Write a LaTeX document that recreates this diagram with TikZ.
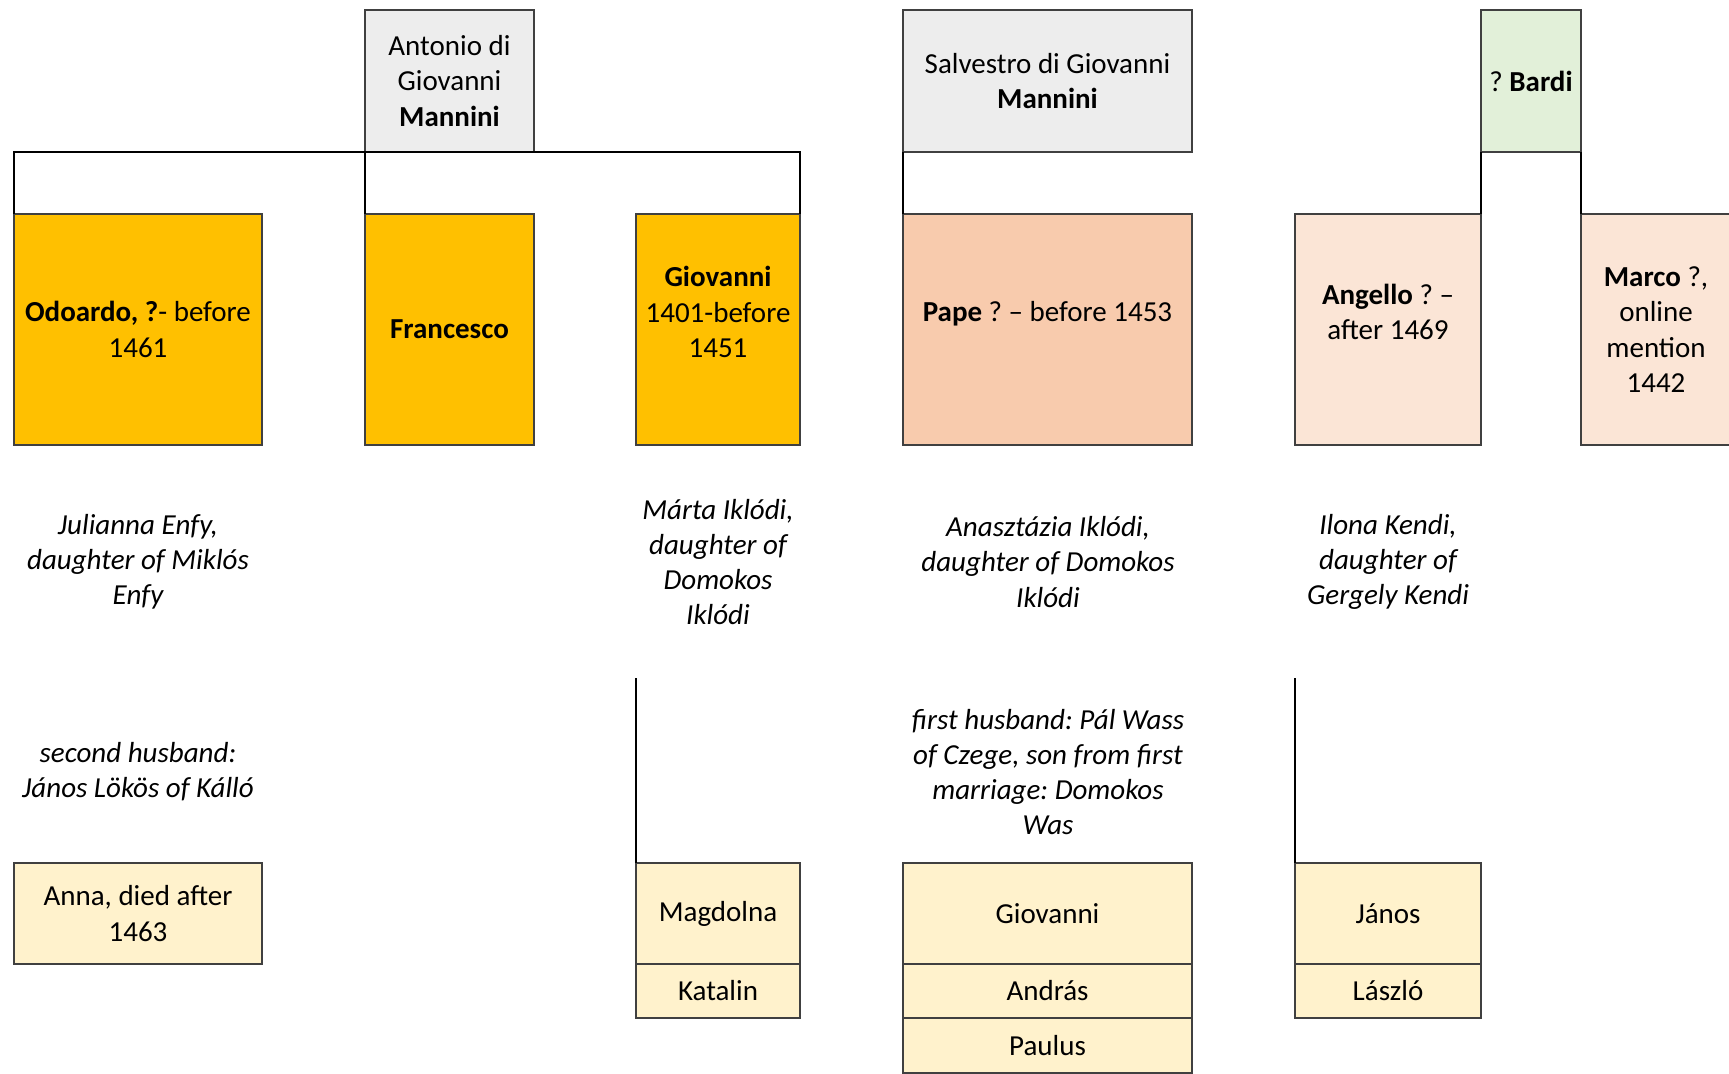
\documentclass[tikz,border=0pt]{standalone}
\usepackage{fontspec}
\setmainfont{Carlito}
\frenchspacing
\usepackage{tikz}
\usetikzlibrary{positioning}
\definecolor{borde}{rgb}{0.25,0.25,0.25}
\definecolor{gris}{HTML}{EDEDED}
\definecolor{verde}{HTML}{E2F0D9}
\definecolor{oro}{HTML}{FFC000}
\definecolor{durazno}{HTML}{F8CBAD}
\definecolor{salmon}{HTML}{FBE5D6}
\definecolor{crema}{HTML}{FFF2CC}
\tikzset{
  caja/.style={
    draw=borde,
    line width=.75pt,
    align=center,
    anchor=north west,
    inner sep=2pt,
    outer sep=0pt,
    font=\fontsize{14.5}{17.6}\selectfont
  },
  padre/.style={
    caja,
    fill=gris,
    minimum height=71pt
  },
  hijo/.style={
    caja,
    fill=oro,
    minimum height=115.5pt
  },
  nieto/.style={
    caja,
    fill=crema,
    minimum height=50.5pt
  },
  otro/.style={
    caja,
    fill=crema,
    minimum height=27pt
  },
  nota/.style={
    align=center,
    font=\fontsize{14.5}{17.6}\selectfont\itshape
  },
  linea/.style={
    draw=black,
    line width=.6pt
  }
}

\begin{document}
\begin{tikzpicture}[x=.5pt,y=-.5pt]
\useasboundingbox (0,0) rectangle (1729,1074);
\node[padre,minimum width=84.5pt] (antonio) at (365,10) {Antonio di\\Giovanni\\\textbf{Mannini}};
\node[padre,minimum width=144.5pt] (salvestro) at (903,10) {Salvestro di Giovanni\\\textbf{Mannini}};
\node[padre,fill=verde,minimum width=50pt] (bardi) at (1481,10) {? \textbf{Bardi}};
\node[hijo,minimum width=124pt] (odoardo) at (14,214) {\textbf{Odoardo, ?}- before\\1461};
\node[hijo,minimum width=84.5pt] (francesco) at (365,214) {\textbf{Francesco}};
\node[hijo,minimum width=82pt] (giovanni) at (636,214) {\textbf{Giovanni}\\1401-before\\1451\\\mbox{}};
\node[hijo,fill=durazno,minimum width=144.5pt] (pape) at (903,214) {\textbf{Pape} ? – before 1453\\\mbox{}};
\node[hijo,fill=salmon,minimum width=93pt] (angello) at (1295,214) {\textbf{Angello} ? –\\after 1469\\\mbox{}};
\node[hijo,fill=salmon,minimum width=75pt] (marco) at (1581,214) {\textbf{Marco} ?,\\online\\mention\\1442};
\node[nota] (julianna) at (138,562) {Julianna Enfy,\\daughter of Miklós\\Enfy};
\node[nota] (marta) at (718,562) {Márta Iklódi,\\daughter of\\Domokos\\Iklódi};
\node[nota] (anasztazia) at (1048,562) {Anasztázia Iklódi,\\daughter of Domokos\\Iklódi};
\node[nota] (ilona) at (1388,562) {Ilona Kendi,\\daughter of\\Gergely Kendi};
\node[nota] (lokos) at (138,772) {second husband:\\János Lökös of Kálló};
\node[nota] (wass) at (1048,772) {first husband: Pál Wass\\of Czege, son from first\\marriage: Domokos\\Was};
\node[nieto,minimum width=124pt] (anna) at (14,863) {Anna, died after\\1463};
\node[nieto,minimum width=82pt] (magdolna) at (636,863) {Magdolna};
\node[otro,minimum width=82pt,below=0pt of magdolna] (katalin) {Katalin};
\node[nieto,minimum width=144.5pt] (giovanni2) at (903,863) {Giovanni};
\node[otro,minimum width=144.5pt,below=0pt of giovanni2] (andras) {András};
\node[otro,minimum width=144.5pt,minimum height=27.5pt,below=0pt of andras] (paulus) {Paulus};
\node[nieto,minimum width=93pt] (janos) at (1295,863) {János};
\node[otro,minimum width=93pt,below=0pt of janos] (laszlo) {László};
\coordinate (tope1) at (636,678);
\coordinate (tope2) at (1295,678);
\draw[linea] (odoardo.north west) |- (antonio.south west) -| (giovanni.north east);
\draw[linea] (antonio.south west) -- (francesco.north west);
\draw[linea] (salvestro.south west) -- (pape.north west);
\draw[linea] (bardi.south west) -- (angello.north east);
\draw[linea] (bardi.south east) -- (marco.north west);
\draw[linea] (tope1) -- (magdolna.north west);
\draw[linea] (tope2) -- (janos.north west);
\end{tikzpicture}
\end{document}
